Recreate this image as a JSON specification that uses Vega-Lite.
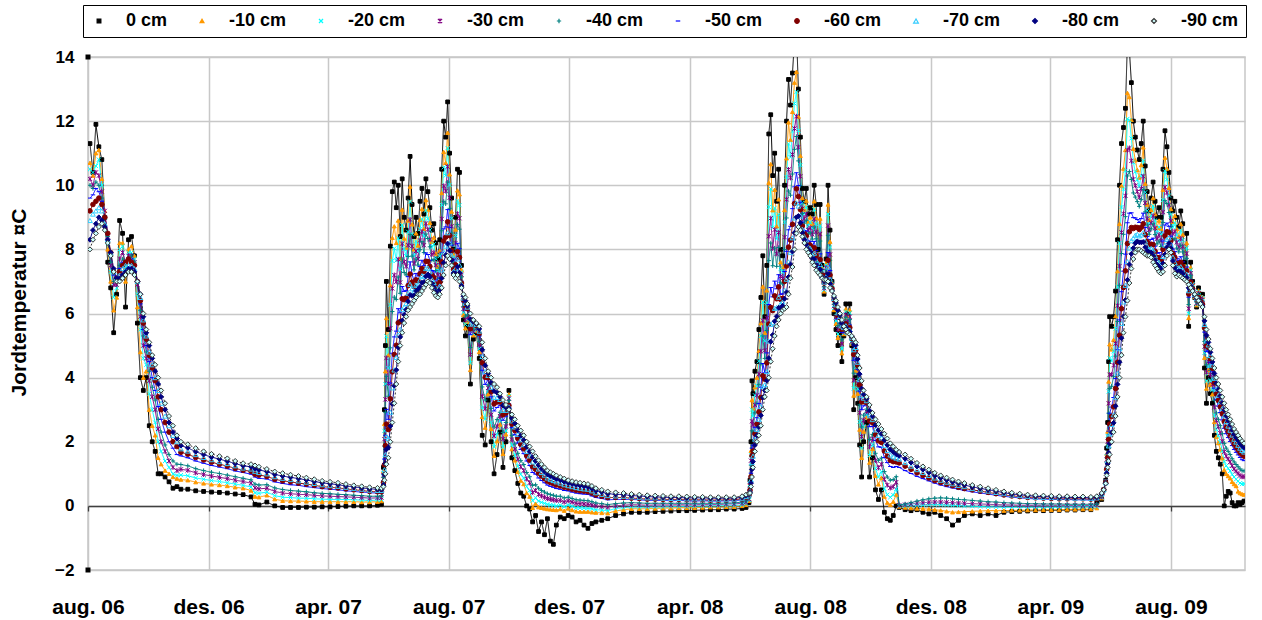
{
"$schema":"https://vega.github.io/schema/vega-lite/v6.json",
"autosize":{"type":"none"},
"padding":{"left":88,"top":57,"right":17,"bottom":50},
"width":1157,"height":513,
"background":"white",
"config":{"view":{"stroke":"#c8c8c8","strokeWidth":1.5}},
"resolve":{"axis":{"x":"independent"}},
"data":{"values":[
{"t":"2006/08/03","a":11.3,"b":10.7,"c":10.5,"d":10.2,"e":10.0,"f":9.6,"g":9.2,"h":8.9,"i":8.3,"j":8.0},
{"t":"2006/08/06","a":10.4,"b":10.3,"c":10.4,"d":10.0,"e":9.9,"f":9.7,"g":9.4,"h":9.1,"i":8.6,"j":8.3},
{"t":"2006/08/09","a":11.9,"b":11.0,"c":10.6,"d":10.4,"e":10.1,"f":9.9,"g":9.5,"h":9.2,"i":8.8,"j":8.5},
{"t":"2006/08/12","a":11.2,"b":11.1,"c":10.8,"d":10.3,"e":10.0,"f":9.8,"g":9.6,"h":9.3,"i":9.0,"j":8.7},
{"t":"2006/08/15","a":10.8,"b":10.2,"c":10.0,"d":9.8,"e":9.6,"f":9.5,"g":9.4,"h":9.2,"i":8.9,"j":8.8},
{"t":"2006/08/18","a":9.0,"b":9.2,"c":9.0,"d":9.2,"e":9.0,"f":9.0,"g":9.0,"h":8.8,"i":8.7,"j":8.6},
{"t":"2006/08/21","a":7.6,"b":8.0,"c":8.2,"d":8.4,"e":8.4,"f":8.5,"g":8.5,"h":8.3,"i":8.3,"j":8.2},
{"t":"2006/08/24","a":6.8,"b":7.0,"c":7.3,"d":7.5,"e":7.6,"f":7.8,"g":7.9,"h":7.9,"i":7.9,"j":7.8},
{"t":"2006/08/27","a":5.4,"b":6.1,"c":6.5,"d":6.9,"e":7.0,"f":7.2,"g":7.3,"h":7.3,"i":7.4,"j":7.3},
{"t":"2006/08/30","a":6.6,"b":6.5,"c":6.8,"d":6.9,"e":7.0,"f":7.0,"g":7.1,"h":7.1,"i":7.1,"j":7.0},
{"t":"2006/09/02","a":8.9,"b":8.2,"c":8.0,"d":7.7,"e":7.5,"f":7.4,"g":7.3,"h":7.2,"i":7.1,"j":7.0},
{"t":"2006/09/05","a":8.5,"b":8.2,"c":8.1,"d":7.9,"e":7.7,"f":7.6,"g":7.5,"h":7.4,"i":7.2,"j":7.1},
{"t":"2006/09/08","a":6.2,"b":7.0,"c":7.4,"d":7.6,"e":7.6,"f":7.6,"g":7.6,"h":7.5,"i":7.3,"j":7.2},
{"t":"2006/09/11","a":8.3,"b":8.0,"c":7.9,"d":7.8,"e":7.7,"f":7.7,"g":7.7,"h":7.5,"i":7.4,"j":7.3},
{"t":"2006/09/14","a":8.4,"b":8.1,"c":7.9,"d":7.8,"e":7.8,"f":7.7,"g":7.6,"h":7.5,"i":7.4,"j":7.3},
{"t":"2006/09/17","a":7.8,"b":7.8,"c":7.7,"d":7.6,"e":7.6,"f":7.5,"g":7.5,"h":7.4,"i":7.3,"j":7.2},
{"t":"2006/09/20","a":5.7,"b":6.2,"c":6.6,"d":6.9,"e":7.0,"f":7.0,"g":7.0,"h":7.0,"i":7.0,"j":7.0},
{"t":"2006/09/23","a":4.0,"b":4.8,"c":5.5,"d":5.9,"e":6.1,"f":6.3,"g":6.4,"h":6.5,"i":6.6,"j":6.6},
{"t":"2006/09/26","a":3.6,"b":4.0,"c":4.6,"d":5.0,"e":5.3,"f":5.5,"g":5.7,"h":5.8,"i":5.9,"j":6.0},
{"t":"2006/09/29","a":4.0,"b":4.2,"c":4.4,"d":4.6,"e":4.8,"f":5.0,"g":5.2,"h":5.3,"i":5.4,"j":5.5},
{"t":"2006/10/02","a":2.5,"b":3.0,"c":3.5,"d":3.9,"e":4.2,"f":4.5,"g":4.7,"h":4.8,"i":5.0,"j":5.1},
{"t":"2006/10/05","a":2.0,"b":2.5,"c":3.0,"d":3.4,"e":3.7,"f":4.0,"g":4.3,"h":4.4,"i":4.6,"j":4.7},
{"t":"2006/10/08","a":1.7,"b":2.2,"c":2.6,"d":3.0,"e":3.3,"f":3.6,"g":3.9,"h":4.0,"i":4.2,"j":4.4},
{"t":"2006/10/11","a":1.0,"b":1.5,"c":2.0,"d":2.4,"e":2.7,"f":3.1,"g":3.4,"h":3.6,"i":3.8,"j":4.0},
{"t":"2006/10/14","a":1.0,"b":1.3,"c":1.7,"d":2.0,"e":2.3,"f":2.7,"g":3.0,"h":3.2,"i":3.4,"j":3.6},
{"t":"2006/10/18","a":0.9,"b":1.1,"c":1.4,"d":1.7,"e":1.9,"f":2.3,"g":2.6,"h":2.8,"i":3.0,"j":3.2},
{"t":"2006/10/22","a":0.75,"b":1.0,"c":1.2,"d":1.4,"e":1.6,"f":2.0,"g":2.3,"h":2.5,"i":2.6,"j":2.8},
{"t":"2006/10/26","a":0.55,"b":0.9,"c":1.0,"d":1.2,"e":1.4,"f":1.8,"g":2.0,"h":2.2,"i":2.3,"j":2.5},
{"t":"2006/10/30","a":0.6,"b":0.85,"c":0.95,"d":1.1,"e":1.3,"f":1.6,"g":1.85,"h":2.0,"i":2.1,"j":2.2},
{"t":"2006/11/03","a":0.52,"b":0.82,"c":0.96,"d":1.14,"e":1.29,"f":1.56,"g":1.67,"h":1.78,"i":1.88,"j":2.0},
{"t":"2006/11/10","a":0.52,"b":0.8,"c":0.94,"d":1.11,"e":1.25,"f":1.5,"g":1.61,"h":1.71,"i":1.81,"j":1.92},
{"t":"2006/11/18","a":0.47,"b":0.74,"c":0.87,"d":1.03,"e":1.16,"f":1.4,"g":1.51,"h":1.6,"i":1.69,"j":1.8},
{"t":"2006/11/26","a":0.45,"b":0.7,"c":0.83,"d":0.98,"e":1.1,"f":1.33,"g":1.43,"h":1.51,"i":1.6,"j":1.7},
{"t":"2006/12/04","a":0.43,"b":0.67,"c":0.79,"d":0.93,"e":1.05,"f":1.26,"g":1.36,"h":1.44,"i":1.52,"j":1.62},
{"t":"2006/12/12","a":0.42,"b":0.65,"c":0.76,"d":0.89,"e":1.01,"f":1.21,"g":1.3,"h":1.38,"i":1.46,"j":1.55},
{"t":"2006/12/20","a":0.4,"b":0.62,"c":0.72,"d":0.85,"e":0.96,"f":1.16,"g":1.24,"h":1.32,"i":1.39,"j":1.48},
{"t":"2006/12/28","a":0.37,"b":0.58,"c":0.68,"d":0.8,"e":0.91,"f":1.09,"g":1.17,"h":1.25,"i":1.32,"j":1.4},
{"t":"2007/01/05","a":0.35,"b":0.55,"c":0.64,"d":0.76,"e":0.86,"f":1.04,"g":1.11,"h":1.18,"i":1.25,"j":1.33},
{"t":"2007/01/13","a":0.28,"b":0.48,"c":0.59,"d":0.71,"e":0.81,"f":0.99,"g":1.08,"h":1.15,"i":1.22,"j":1.3},
{"t":"2007/01/17","a":0.05,"b":0.29,"c":0.41,"d":0.56,"e":0.68,"f":0.9,"g":0.99,"h":1.08,"i":1.16,"j":1.26},
{"t":"2007/01/21","a":0.03,"b":0.27,"c":0.39,"d":0.53,"e":0.65,"f":0.86,"g":0.96,"h":1.04,"i":1.12,"j":1.22},
{"t":"2007/01/29","a":0.12,"b":0.33,"c":0.43,"d":0.55,"e":0.66,"f":0.84,"g":0.92,"h":1.0,"i":1.07,"j":1.15},
{"t":"2007/02/06","a":0,"b":0.21,"c":0.32,"d":0.45,"e":0.56,"f":0.75,"g":0.83,"h":0.91,"i":0.98,"j":1.07},
{"t":"2007/02/14","a":-0.05,"b":0.16,"c":0.27,"d":0.4,"e":0.51,"f":0.7,"g":0.78,"h":0.86,"i":0.93,"j":1.02},
{"t":"2007/02/22","a":-0.05,"b":0.15,"c":0.26,"d":0.38,"e":0.48,"f":0.66,"g":0.75,"h":0.82,"i":0.89,"j":0.97},
{"t":"2007/03/02","a":-0.05,"b":0.15,"c":0.24,"d":0.36,"e":0.46,"f":0.64,"g":0.71,"h":0.78,"i":0.85,"j":0.93},
{"t":"2007/03/10","a":-0.04,"b":0.14,"c":0.24,"d":0.35,"e":0.44,"f":0.6,"g":0.68,"h":0.74,"i":0.81,"j":0.88},
{"t":"2007/03/18","a":-0.04,"b":0.13,"c":0.22,"d":0.33,"e":0.41,"f":0.57,"g":0.64,"h":0.7,"i":0.76,"j":0.83},
{"t":"2007/03/26","a":-0.03,"b":0.13,"c":0.21,"d":0.31,"e":0.39,"f":0.54,"g":0.6,"h":0.66,"i":0.72,"j":0.78},
{"t":"2007/04/03","a":-0.03,"b":0.13,"c":0.2,"d":0.3,"e":0.38,"f":0.52,"g":0.58,"h":0.63,"i":0.69,"j":0.75},
{"t":"2007/04/11","a":-0.02,"b":0.13,"c":0.2,"d":0.29,"e":0.36,"f":0.5,"g":0.56,"h":0.61,"i":0.66,"j":0.72},
{"t":"2007/04/19","a":-0.01,"b":0.13,"c":0.2,"d":0.28,"e":0.35,"f":0.47,"g":0.53,"h":0.58,"i":0.62,"j":0.68},
{"t":"2007/04/27","a":0,"b":0.13,"c":0.19,"d":0.27,"e":0.33,"f":0.45,"g":0.5,"h":0.54,"i":0.59,"j":0.64},
{"t":"2007/05/05","a":0,"b":0.12,"c":0.18,"d":0.26,"e":0.32,"f":0.43,"g":0.48,"h":0.52,"i":0.56,"j":0.61},
{"t":"2007/05/13","a":0,"b":0.12,"c":0.17,"d":0.24,"e":0.3,"f":0.41,"g":0.45,"h":0.49,"i":0.53,"j":0.58},
{"t":"2007/05/21","a":0.02,"b":0.13,"c":0.18,"d":0.25,"e":0.3,"f":0.4,"g":0.44,"h":0.48,"i":0.52,"j":0.56},
{"t":"2007/05/25","a":0.05,"b":0.15,"c":0.2,"d":0.26,"e":0.31,"f":0.4,"g":0.44,"h":0.48,"i":0.51,"j":0.55},
{"t":"2007/05/27","a":1.2,"b":1.08,"c":1.02,"d":0.95,"e":0.89,"f":0.78,"g":0.73,"h":0.69,"i":0.65,"j":0.6},
{"t":"2007/05/28","a":3.0,"b":2.56,"c":2.34,"d":2.08,"e":1.86,"f":1.46,"g":1.28,"h":1.13,"i":0.98,"j":0.8},
{"t":"2007/05/29","a":5.0,"b":4.2,"c":3.8,"d":3.32,"e":2.92,"f":2.2,"g":1.88,"h":1.6,"i":1.32,"j":1.0},
{"t":"2007/05/30","a":7.0,"b":5.86,"c":5.29,"d":4.61,"e":4.04,"f":3.01,"g":2.55,"h":2.16,"i":1.76,"j":1.3},
{"t":"2007/06/01","a":5.5,"b":4.7,"c":4.3,"d":3.82,"e":3.42,"f":2.7,"g":2.38,"h":2.1,"i":1.82,"j":1.5},
{"t":"2007/06/03","a":8.1,"b":6.88,"c":6.27,"d":5.54,"e":4.93,"f":3.83,"g":3.34,"h":2.92,"i":2.49,"j":2.0},
{"t":"2007/06/05","a":9.8,"b":8.36,"c":7.64,"d":6.78,"e":6.06,"f":4.76,"g":4.18,"h":3.68,"i":3.18,"j":2.6},
{"t":"2007/06/07","a":10.1,"b":8.72,"c":8.03,"d":7.2,"e":6.51,"f":5.27,"g":4.72,"h":4.24,"i":3.75,"j":3.2},
{"t":"2007/06/09","a":9.3,"b":8.2,"c":7.65,"d":6.99,"e":6.44,"f":5.45,"g":5.01,"h":4.63,"i":4.24,"j":3.8},
{"t":"2007/06/11","a":10.0,"b":8.9,"c":8.35,"d":7.69,"e":7.14,"f":6.15,"g":5.71,"h":5.33,"i":4.94,"j":4.5},
{"t":"2007/06/13","a":8.4,"b":7.72,"c":7.38,"d":6.97,"e":6.63,"f":6.02,"g":5.75,"h":5.51,"i":5.27,"j":5.0},
{"t":"2007/06/15","a":10.2,"b":9.24,"c":8.76,"d":8.18,"e":7.7,"f":6.84,"g":6.46,"h":6.12,"i":5.78,"j":5.4},
{"t":"2007/06/17","a":9.0,"b":8.34,"c":8.01,"d":7.61,"e":7.28,"f":6.69,"g":6.43,"h":6.2,"i":5.96,"j":5.7},
{"t":"2007/06/19","a":8.6,"b":8.06,"c":7.79,"d":7.47,"e":7.2,"f":6.71,"g":6.49,"h":6.31,"i":6.12,"j":5.9},
{"t":"2007/06/21","a":9.6,"b":8.9,"c":8.55,"d":8.13,"e":7.78,"f":7.15,"g":6.87,"h":6.63,"i":6.38,"j":6.1},
{"t":"2007/06/23","a":10.9,"b":9.96,"c":9.49,"d":8.93,"e":8.46,"f":7.61,"g":7.23,"h":6.91,"i":6.58,"j":6.2},
{"t":"2007/06/25","a":9.4,"b":8.78,"c":8.47,"d":8.1,"e":7.79,"f":7.23,"g":6.98,"h":6.77,"i":6.55,"j":6.3},
{"t":"2007/06/27","a":8.4,"b":8.0,"c":7.8,"d":7.56,"e":7.36,"f":7.0,"g":6.84,"h":6.7,"i":6.56,"j":6.4},
{"t":"2007/06/29","a":9.0,"b":8.5,"c":8.25,"d":7.95,"e":7.7,"f":7.25,"g":7.05,"h":6.88,"i":6.7,"j":6.5},
{"t":"2007/07/01","a":8.5,"b":8.12,"c":7.93,"d":7.7,"e":7.51,"f":7.17,"g":7.02,"h":6.89,"i":6.75,"j":6.6},
{"t":"2007/07/03","a":9.5,"b":8.92,"c":8.63,"d":8.28,"e":7.99,"f":7.47,"g":7.24,"h":7.04,"i":6.83,"j":6.6},
{"t":"2007/07/05","a":9.9,"b":9.26,"c":8.94,"d":8.56,"e":8.24,"f":7.66,"g":7.4,"h":7.18,"i":6.96,"j":6.7},
{"t":"2007/07/07","a":9.1,"b":8.64,"c":8.41,"d":8.13,"e":7.9,"f":7.49,"g":7.31,"h":7.15,"i":6.98,"j":6.8},
{"t":"2007/07/09","a":10.2,"b":9.54,"c":9.21,"d":8.81,"e":8.48,"f":7.89,"g":7.63,"h":7.4,"i":7.16,"j":6.9},
{"t":"2007/07/11","a":9.8,"b":9.24,"c":8.96,"d":8.62,"e":8.34,"f":7.84,"g":7.62,"h":7.42,"i":7.22,"j":7.0},
{"t":"2007/07/13","a":9.3,"b":8.83,"c":8.6,"d":8.31,"e":8.08,"f":7.66,"g":7.47,"h":7.3,"i":7.14,"j":6.95},
{"t":"2007/07/15","a":8.6,"b":8.24,"c":8.06,"d":7.84,"e":7.66,"f":7.34,"g":7.2,"h":7.07,"i":6.94,"j":6.8},
{"t":"2007/07/17","a":8.8,"b":8.37,"c":8.16,"d":7.9,"e":7.68,"f":7.3,"g":7.12,"h":6.97,"i":6.82,"j":6.65},
{"t":"2007/07/19","a":8.2,"b":7.87,"c":7.71,"d":7.51,"e":7.34,"f":7.05,"g":6.91,"h":6.8,"i":6.68,"j":6.55},
{"t":"2007/07/21","a":7.7,"b":7.46,"c":7.34,"d":7.2,"e":7.08,"f":6.86,"g":6.76,"h":6.68,"i":6.6,"j":6.5},
{"t":"2007/07/23","a":8.3,"b":7.96,"c":7.79,"d":7.59,"e":7.42,"f":7.11,"g":6.97,"h":6.86,"i":6.74,"j":6.6},
{"t":"2007/07/25","a":10.5,"b":9.76,"c":9.39,"d":8.95,"e":8.58,"f":7.91,"g":7.61,"h":7.36,"i":7.1,"j":6.8},
{"t":"2007/07/27","a":12.0,"b":11.04,"c":10.56,"d":9.98,"e":9.5,"f":8.64,"g":8.26,"h":7.92,"i":7.58,"j":7.2},
{"t":"2007/07/29","a":11.5,"b":10.7,"c":10.3,"d":9.82,"e":9.42,"f":8.7,"g":8.38,"h":8.1,"i":7.82,"j":7.5},
{"t":"2007/07/31","a":12.6,"b":11.64,"c":11.16,"d":10.58,"e":10.1,"f":9.24,"g":8.86,"h":8.52,"i":8.18,"j":7.8},
{"t":"2007/08/02","a":11.0,"b":10.34,"c":10.01,"d":9.61,"e":9.28,"f":8.69,"g":8.43,"h":8.2,"i":7.96,"j":7.7},
{"t":"2007/08/04","a":9.6,"b":9.18,"c":8.97,"d":8.72,"e":8.51,"f":8.13,"g":7.96,"h":7.82,"i":7.67,"j":7.5},
{"t":"2007/08/06","a":8.0,"b":7.84,"c":7.76,"d":7.66,"e":7.58,"f":7.44,"g":7.38,"h":7.32,"i":7.26,"j":7.2},
{"t":"2007/08/08","a":9.0,"b":8.62,"c":8.43,"d":8.2,"e":8.01,"f":7.67,"g":7.52,"h":7.39,"i":7.25,"j":7.1},
{"t":"2007/08/10","a":10.5,"b":9.84,"c":9.51,"d":9.11,"e":8.78,"f":8.19,"g":7.93,"h":7.7,"i":7.46,"j":7.2},
{"t":"2007/08/12","a":10.4,"b":9.72,"c":9.38,"d":8.97,"e":8.63,"f":8.02,"g":7.75,"h":7.51,"i":7.27,"j":7.0},
{"t":"2007/08/14","a":7.5,"b":7.36,"c":7.29,"d":7.21,"e":7.14,"f":7.01,"g":6.95,"h":6.91,"i":6.86,"j":6.8},
{"t":"2007/08/16","a":5.8,"b":5.96,"c":6.04,"d":6.14,"e":6.22,"f":6.36,"g":6.42,"h":6.48,"i":6.54,"j":6.6},
{"t":"2007/08/18","a":5.3,"b":5.54,"c":5.66,"d":5.8,"e":5.92,"f":6.14,"g":6.24,"h":6.32,"i":6.4,"j":6.5},
{"t":"2007/08/20","a":5.6,"b":5.74,"c":5.81,"d":5.89,"e":5.96,"f":6.09,"g":6.15,"h":6.2,"i":6.24,"j":6.3},
{"t":"2007/08/23","a":3.8,"b":4.24,"c":4.46,"d":4.72,"e":4.94,"f":5.34,"g":5.52,"h":5.67,"i":5.82,"j":6.0},
{"t":"2007/08/26","a":5.2,"b":5.32,"c":5.38,"d":5.45,"e":5.51,"f":5.62,"g":5.67,"h":5.71,"i":5.75,"j":5.8},
{"t":"2007/08/29","a":5.4,"b":5.46,"c":5.49,"d":5.53,"e":5.56,"f":5.61,"g":5.63,"h":5.66,"i":5.68,"j":5.7},
{"t":"2007/09/01","a":4.6,"b":4.8,"c":4.9,"d":5.02,"e":5.12,"f":5.3,"g":5.38,"h":5.45,"i":5.52,"j":5.6},
{"t":"2007/09/04","a":2.2,"b":2.78,"c":3.07,"d":3.42,"e":3.71,"f":4.23,"g":4.46,"h":4.66,"i":4.87,"j":5.1},
{"t":"2007/09/07","a":1.9,"b":2.44,"c":2.71,"d":3.03,"e":3.3,"f":3.79,"g":4.01,"h":4.19,"i":4.38,"j":4.6},
{"t":"2007/09/10","a":3.3,"b":3.48,"c":3.57,"d":3.68,"e":3.77,"f":3.93,"g":4.0,"h":4.07,"i":4.13,"j":4.2},
{"t":"2007/09/13","a":2.0,"b":2.4,"c":2.6,"d":2.84,"e":3.04,"f":3.4,"g":3.56,"h":3.7,"i":3.84,"j":4.0},
{"t":"2007/09/16","a":1.0,"b":1.56,"c":1.84,"d":2.18,"e":2.46,"f":2.96,"g":3.18,"h":3.38,"i":3.58,"j":3.8},
{"t":"2007/09/19","a":1.6,"b":2.02,"c":2.23,"d":2.48,"e":2.69,"f":3.07,"g":3.24,"h":3.38,"i":3.53,"j":3.7},
{"t":"2007/09/22","a":2.3,"b":2.54,"c":2.66,"d":2.8,"e":2.92,"f":3.14,"g":3.24,"h":3.32,"i":3.4,"j":3.5},
{"t":"2007/09/25","a":1.2,"b":1.62,"c":1.83,"d":2.08,"e":2.29,"f":2.67,"g":2.84,"h":2.98,"i":3.13,"j":3.3},
{"t":"2007/09/28","a":2.0,"b":2.23,"c":2.34,"d":2.48,"e":2.6,"f":2.8,"g":2.9,"h":2.98,"i":3.06,"j":3.15},
{"t":"2007/10/01","a":3.6,"b":3.48,"c":3.42,"d":3.35,"e":3.29,"f":3.18,"g":3.13,"h":3.09,"i":3.05,"j":3.0},
{"t":"2007/10/04","a":1.5,"b":1.77,"c":1.9,"d":2.07,"e":2.2,"f":2.44,"g":2.55,"h":2.65,"i":2.74,"j":2.85},
{"t":"2007/10/07","a":1.1,"b":1.42,"c":1.58,"d":1.77,"e":1.93,"f":2.22,"g":2.35,"h":2.46,"i":2.57,"j":2.7},
{"t":"2007/10/10","a":0.7,"b":1.06,"c":1.24,"d":1.46,"e":1.64,"f":1.96,"g":2.1,"h":2.23,"i":2.36,"j":2.5},
{"t":"2007/10/13","a":0.4,"b":0.79,"c":0.98,"d":1.22,"e":1.41,"f":1.76,"g":1.92,"h":2.06,"i":2.19,"j":2.35},
{"t":"2007/10/16","a":0.3,"b":0.68,"c":0.87,"d":1.1,"e":1.29,"f":1.63,"g":1.78,"h":1.91,"i":2.05,"j":2.2},
{"t":"2007/10/19","a":0.0,"b":0.4,"c":0.6,"d":0.84,"e":1.04,"f":1.4,"g":1.56,"h":1.7,"i":1.84,"j":2.0},
{"t":"2007/10/22","a":-0.1,"b":0.29,"c":0.48,"d":0.72,"e":0.91,"f":1.26,"g":1.42,"h":1.56,"i":1.69,"j":1.85},
{"t":"2007/10/25","a":-0.5,"b":-0.06,"c":0.16,"d":0.42,"e":0.64,"f":1.04,"g":1.22,"h":1.37,"i":1.52,"j":1.7},
{"t":"2007/10/28","a":-0.3,"b":0.07,"c":0.25,"d":0.48,"e":0.66,"f":0.99,"g":1.14,"h":1.27,"i":1.4,"j":1.55},
{"t":"2007/10/31","a":-0.8,"b":-0.04,"c":0.15,"d":0.36,"e":0.55,"f":0.87,"g":1.02,"h":1.15,"i":1.27,"j":1.42},
{"t":"2007/11/03","a":-0.5,"b":-0.06,"c":0.11,"d":0.31,"e":0.48,"f":0.79,"g":0.93,"h":1.04,"i":1.16,"j":1.3},
{"t":"2007/11/06","a":-0.9,"b":-0.08,"c":0.08,"d":0.27,"e":0.43,"f":0.72,"g":0.85,"h":0.96,"i":1.07,"j":1.2},
{"t":"2007/11/09","a":-0.4,"b":-0.1,"c":0.05,"d":0.23,"e":0.38,"f":0.65,"g":0.77,"h":0.87,"i":0.98,"j":1.1},
{"t":"2007/11/12","a":-1.1,"b":-0.11,"c":0.03,"d":0.21,"e":0.35,"f":0.61,"g":0.73,"h":0.83,"i":0.93,"j":1.05},
{"t":"2007/11/15","a":-1.2,"b":-0.12,"c":0.02,"d":0.19,"e":0.33,"f":0.58,"g":0.69,"h":0.79,"i":0.89,"j":1.0},
{"t":"2007/11/18","a":-0.6,"b":-0.13,"c":0.0,"d":0.17,"e":0.3,"f":0.54,"g":0.65,"h":0.75,"i":0.84,"j":0.95},
{"t":"2007/11/22","a":-0.35,"b":-0.1,"c":0.02,"d":0.17,"e":0.3,"f":0.52,"g":0.62,"h":0.71,"i":0.8,"j":0.9},
{"t":"2007/11/26","a":-0.4,"b":-0.15,"c":-0.03,"d":0.12,"e":0.25,"f":0.48,"g":0.58,"h":0.66,"i":0.75,"j":0.85},
{"t":"2007/11/30","a":-0.3,"b":-0.08,"c":0.03,"d":0.16,"e":0.27,"f":0.47,"g":0.56,"h":0.63,"i":0.71,"j":0.8},
{"t":"2007/12/04","a":-0.35,"b":-0.13,"c":-0.01,"d":0.12,"e":0.23,"f":0.43,"g":0.52,"h":0.6,"i":0.68,"j":0.77},
{"t":"2007/12/08","a":-0.5,"b":-0.17,"c":-0.06,"d":0.08,"e":0.19,"f":0.4,"g":0.49,"h":0.57,"i":0.65,"j":0.74},
{"t":"2007/12/12","a":-0.45,"b":-0.18,"c":-0.06,"d":0.07,"e":0.18,"f":0.38,"g":0.47,"h":0.55,"i":0.63,"j":0.72},
{"t":"2007/12/16","a":-0.6,"b":-0.18,"c":-0.07,"d":0.06,"e":0.17,"f":0.37,"g":0.46,"h":0.53,"i":0.61,"j":0.7},
{"t":"2007/12/20","a":-0.7,"b":-0.18,"c":-0.08,"d":0.05,"e":0.16,"f":0.36,"g":0.44,"h":0.52,"i":0.59,"j":0.68},
{"t":"2007/12/24","a":-0.55,"b":-0.2,"c":-0.09,"d":0.03,"e":0.13,"f":0.31,"g":0.4,"h":0.47,"i":0.54,"j":0.62},
{"t":"2007/12/28","a":-0.5,"b":-0.21,"c":-0.12,"d":0.0,"e":0.09,"f":0.26,"g":0.34,"h":0.41,"i":0.47,"j":0.55},
{"t":"2008/01/03","a":-0.45,"b":-0.22,"c":-0.13,"d":-0.02,"e":0.07,"f":0.23,"g":0.3,"h":0.36,"i":0.43,"j":0.5},
{"t":"2008/01/09","a":-0.4,"b":-0.23,"c":-0.15,"d":-0.04,"e":0.04,"f":0.19,"g":0.26,"h":0.32,"i":0.38,"j":0.45},
{"t":"2008/01/17","a":-0.3,"b":-0.16,"c":-0.08,"d":0.0,"e":0.07,"f":0.2,"g":0.26,"h":0.31,"i":0.36,"j":0.42},
{"t":"2008/01/25","a":-0.25,"b":-0.12,"c":-0.06,"d":0.02,"e":0.09,"f":0.2,"g":0.26,"h":0.3,"i":0.35,"j":0.4},
{"t":"2008/02/02","a":-0.2,"b":-0.09,"c":-0.03,"d":0.04,"e":0.1,"f":0.2,"g":0.24,"h":0.28,"i":0.32,"j":0.37},
{"t":"2008/02/10","a":-0.2,"b":-0.09,"c":-0.04,"d":0.03,"e":0.09,"f":0.19,"g":0.23,"h":0.27,"i":0.31,"j":0.35},
{"t":"2008/02/18","a":-0.2,"b":-0.09,"c":-0.04,"d":0.02,"e":0.08,"f":0.17,"g":0.21,"h":0.25,"i":0.29,"j":0.33},
{"t":"2008/02/26","a":-0.18,"b":-0.08,"c":-0.03,"d":0.03,"e":0.08,"f":0.17,"g":0.21,"h":0.25,"i":0.28,"j":0.32},
{"t":"2008/03/05","a":-0.17,"b":-0.07,"c":-0.03,"d":0.03,"e":0.08,"f":0.17,"g":0.2,"h":0.24,"i":0.27,"j":0.31},
{"t":"2008/03/13","a":-0.16,"b":-0.07,"c":-0.02,"d":0.03,"e":0.08,"f":0.16,"g":0.2,"h":0.23,"i":0.26,"j":0.3},
{"t":"2008/03/21","a":-0.15,"b":-0.06,"c":-0.02,"d":0.04,"e":0.08,"f":0.17,"g":0.2,"h":0.23,"i":0.26,"j":0.3},
{"t":"2008/03/29","a":-0.15,"b":-0.06,"c":-0.02,"d":0.03,"e":0.08,"f":0.16,"g":0.19,"h":0.22,"i":0.25,"j":0.29},
{"t":"2008/04/06","a":-0.14,"b":-0.06,"c":-0.01,"d":0.04,"e":0.08,"f":0.15,"g":0.19,"h":0.22,"i":0.25,"j":0.28},
{"t":"2008/04/14","a":-0.13,"b":-0.05,"c":-0.01,"d":0.04,"e":0.08,"f":0.16,"g":0.19,"h":0.22,"i":0.25,"j":0.28},
{"t":"2008/04/22","a":-0.12,"b":-0.04,"c":0.0,"d":0.04,"e":0.08,"f":0.15,"g":0.18,"h":0.21,"i":0.24,"j":0.27},
{"t":"2008/04/30","a":-0.12,"b":-0.04,"c":0.0,"d":0.04,"e":0.08,"f":0.15,"g":0.18,"h":0.21,"i":0.24,"j":0.27},
{"t":"2008/05/08","a":-0.1,"b":-0.03,"c":0.01,"d":0.06,"e":0.09,"f":0.16,"g":0.19,"h":0.21,"i":0.24,"j":0.27},
{"t":"2008/05/16","a":-0.1,"b":-0.03,"c":0.01,"d":0.06,"e":0.09,"f":0.16,"g":0.19,"h":0.21,"i":0.24,"j":0.27},
{"t":"2008/05/24","a":-0.08,"b":0.0,"c":0.03,"d":0.08,"e":0.12,"f":0.19,"g":0.22,"h":0.24,"i":0.27,"j":0.3},
{"t":"2008/05/28","a":-0.05,"b":0.03,"c":0.07,"d":0.12,"e":0.16,"f":0.23,"g":0.26,"h":0.29,"i":0.32,"j":0.35},
{"t":"2008/05/31","a":0.1,"b":0.16,"c":0.18,"d":0.22,"e":0.25,"f":0.3,"g":0.32,"h":0.34,"i":0.36,"j":0.38},
{"t":"2008/06/01","a":0.8,"b":0.72,"c":0.68,"d":0.63,"e":0.59,"f":0.52,"g":0.49,"h":0.46,"i":0.43,"j":0.4},
{"t":"2008/06/02","a":2.0,"b":1.72,"c":1.58,"d":1.41,"e":1.27,"f":1.02,"g":0.91,"h":0.81,"i":0.71,"j":0.6},
{"t":"2008/06/03","a":3.9,"b":3.3,"c":3.0,"d":2.64,"e":2.34,"f":1.8,"g":1.56,"h":1.35,"i":1.14,"j":0.9},
{"t":"2008/06/04","a":3.5,"b":3.04,"c":2.81,"d":2.53,"e":2.3,"f":1.89,"g":1.71,"h":1.55,"i":1.38,"j":1.2},
{"t":"2008/06/06","a":4.2,"b":3.7,"c":3.45,"d":3.15,"e":2.9,"f":2.45,"g":2.25,"h":2.08,"i":1.9,"j":1.7},
{"t":"2008/06/08","a":4.5,"b":4.0,"c":3.75,"d":3.45,"e":3.2,"f":2.75,"g":2.55,"h":2.38,"i":2.2,"j":2.0},
{"t":"2008/06/10","a":5.5,"b":4.84,"c":4.51,"d":4.11,"e":3.78,"f":3.19,"g":2.93,"h":2.7,"i":2.46,"j":2.2},
{"t":"2008/06/12","a":6.5,"b":5.7,"c":5.3,"d":4.82,"e":4.42,"f":3.7,"g":3.38,"h":3.1,"i":2.82,"j":2.5},
{"t":"2008/06/14","a":7.8,"b":6.84,"c":6.36,"d":5.78,"e":5.3,"f":4.44,"g":4.06,"h":3.72,"i":3.38,"j":3.0},
{"t":"2008/06/16","a":5.9,"b":5.4,"c":5.15,"d":4.85,"e":4.6,"f":4.15,"g":3.95,"h":3.78,"i":3.6,"j":3.4},
{"t":"2008/06/18","a":7.5,"b":6.72,"c":6.33,"d":5.86,"e":5.47,"f":4.77,"g":4.46,"h":4.19,"i":3.91,"j":3.6},
{"t":"2008/06/20","a":11.6,"b":10.08,"c":9.32,"d":8.41,"e":7.65,"f":6.28,"g":5.67,"h":5.14,"i":4.61,"j":4.0},
{"t":"2008/06/22","a":12.2,"b":10.66,"c":9.89,"d":8.97,"e":8.2,"f":6.81,"g":6.19,"h":5.66,"i":5.12,"j":4.5},
{"t":"2008/06/24","a":10.3,"b":9.22,"c":8.68,"d":8.03,"e":7.49,"f":6.52,"g":6.09,"h":5.71,"i":5.33,"j":4.9},
{"t":"2008/06/26","a":11.0,"b":9.86,"c":9.29,"d":8.61,"e":8.04,"f":7.01,"g":6.55,"h":6.16,"i":5.76,"j":5.3},
{"t":"2008/06/28","a":9.5,"b":8.72,"c":8.33,"d":7.86,"e":7.47,"f":6.77,"g":6.46,"h":6.19,"i":5.91,"j":5.6},
{"t":"2008/06/30","a":10.5,"b":9.56,"c":9.09,"d":8.53,"e":8.06,"f":7.21,"g":6.83,"h":6.51,"i":6.18,"j":5.8},
{"t":"2008/07/02","a":8.0,"b":7.6,"c":7.4,"d":7.16,"e":6.96,"f":6.6,"g":6.44,"h":6.3,"i":6.16,"j":6.0},
{"t":"2008/07/04","a":7.8,"b":7.46,"c":7.29,"d":7.09,"e":6.92,"f":6.61,"g":6.47,"h":6.36,"i":6.24,"j":6.1},
{"t":"2008/07/06","a":10.0,"b":9.23,"c":8.85,"d":8.38,"e":8.0,"f":7.31,"g":7.0,"h":6.73,"i":6.46,"j":6.15},
{"t":"2008/07/08","a":12.0,"b":10.84,"c":10.26,"d":9.56,"e":8.98,"f":7.94,"g":7.48,"h":7.07,"i":6.66,"j":6.2},
{"t":"2008/07/10","a":13.3,"b":11.96,"c":11.29,"d":10.49,"e":9.82,"f":8.61,"g":8.07,"h":7.61,"i":7.14,"j":6.6},
{"t":"2008/07/12","a":12.5,"b":11.42,"c":10.88,"d":10.23,"e":9.69,"f":8.72,"g":8.29,"h":7.91,"i":7.53,"j":7.1},
{"t":"2008/07/14","a":13.5,"b":12.29,"c":11.69,"d":10.96,"e":10.35,"f":9.27,"g":8.78,"h":8.36,"i":7.93,"j":7.45},
{"t":"2008/07/16","a":14.5,"b":13.2,"c":12.55,"d":11.77,"e":11.12,"f":9.95,"g":9.43,"h":8.98,"i":8.52,"j":8.0},
{"t":"2008/07/18","a":14.8,"b":13.54,"c":12.91,"d":12.15,"e":11.52,"f":10.39,"g":9.89,"h":9.45,"i":9.0,"j":8.5},
{"t":"2008/07/20","a":13.0,"b":12.14,"c":11.71,"d":11.19,"e":10.76,"f":9.99,"g":9.65,"h":9.35,"i":9.04,"j":8.7},
{"t":"2008/07/22","a":11.5,"b":10.92,"c":10.63,"d":10.28,"e":9.99,"f":9.47,"g":9.24,"h":9.04,"i":8.83,"j":8.6},
{"t":"2008/07/24","a":9.9,"b":9.6,"c":9.45,"d":9.27,"e":9.12,"f":8.85,"g":8.73,"h":8.63,"i":8.52,"j":8.4},
{"t":"2008/07/26","a":9.5,"b":9.24,"c":9.11,"d":8.95,"e":8.82,"f":8.59,"g":8.49,"h":8.4,"i":8.3,"j":8.2},
{"t":"2008/07/28","a":9.9,"b":9.52,"c":9.33,"d":9.1,"e":8.91,"f":8.57,"g":8.42,"h":8.29,"i":8.15,"j":8.0},
{"t":"2008/07/30","a":9.1,"b":8.86,"c":8.74,"d":8.6,"e":8.48,"f":8.26,"g":8.16,"h":8.08,"i":8.0,"j":7.9},
{"t":"2008/08/01","a":9.3,"b":9.0,"c":8.85,"d":8.67,"e":8.52,"f":8.25,"g":8.13,"h":8.03,"i":7.92,"j":7.8},
{"t":"2008/08/03","a":9.1,"b":8.8,"c":8.65,"d":8.47,"e":8.32,"f":8.05,"g":7.93,"h":7.83,"i":7.72,"j":7.6},
{"t":"2008/08/05","a":10.0,"b":9.5,"c":9.25,"d":8.95,"e":8.7,"f":8.25,"g":8.05,"h":7.88,"i":7.7,"j":7.5},
{"t":"2008/08/07","a":9.4,"b":8.99,"c":8.79,"d":8.54,"e":8.33,"f":7.97,"g":7.8,"h":7.66,"i":7.51,"j":7.35},
{"t":"2008/08/09","a":8.0,"b":7.85,"c":7.78,"d":7.69,"e":7.62,"f":7.49,"g":7.43,"h":7.38,"i":7.33,"j":7.27},
{"t":"2008/08/11","a":9.4,"b":8.96,"c":8.74,"d":8.48,"e":8.26,"f":7.86,"g":7.68,"h":7.53,"i":7.38,"j":7.2},
{"t":"2008/08/13","a":7.5,"b":7.42,"c":7.38,"d":7.33,"e":7.29,"f":7.22,"g":7.19,"h":7.16,"i":7.13,"j":7.1},
{"t":"2008/08/15","a":6.6,"b":6.69,"c":6.74,"d":6.79,"e":6.83,"f":6.92,"g":6.95,"h":6.98,"i":7.01,"j":7.05},
{"t":"2008/08/17","a":7.7,"b":7.57,"c":7.51,"d":7.43,"e":7.36,"f":7.25,"g":7.19,"h":7.15,"i":7.1,"j":7.05},
{"t":"2008/08/19","a":10.0,"b":9.4,"c":9.1,"d":8.74,"e":8.44,"f":7.9,"g":7.66,"h":7.45,"i":7.24,"j":7.0},
{"t":"2008/08/21","a":8.6,"b":8.24,"c":8.06,"d":7.84,"e":7.66,"f":7.34,"g":7.2,"h":7.07,"i":6.94,"j":6.8},
{"t":"2008/08/23","a":7.0,"b":6.94,"c":6.91,"d":6.87,"e":6.84,"f":6.79,"g":6.77,"h":6.75,"i":6.72,"j":6.7},
{"t":"2008/08/25","a":6.0,"b":6.11,"c":6.17,"d":6.23,"e":6.29,"f":6.39,"g":6.43,"h":6.47,"i":6.51,"j":6.55},
{"t":"2008/08/27","a":5.5,"b":5.68,"c":5.77,"d":5.88,"e":5.97,"f":6.13,"g":6.2,"h":6.27,"i":6.33,"j":6.4},
{"t":"2008/08/29","a":5.0,"b":5.24,"c":5.36,"d":5.5,"e":5.62,"f":5.84,"g":5.94,"h":6.02,"i":6.1,"j":6.2},
{"t":"2008/08/31","a":5.4,"b":5.52,"c":5.58,"d":5.65,"e":5.71,"f":5.82,"g":5.87,"h":5.91,"i":5.95,"j":6.0},
{"t":"2008/09/02","a":4.5,"b":4.76,"c":4.89,"d":5.05,"e":5.18,"f":5.41,"g":5.51,"h":5.61,"i":5.7,"j":5.8},
{"t":"2008/09/04","a":5.3,"b":5.36,"c":5.39,"d":5.43,"e":5.46,"f":5.51,"g":5.53,"h":5.56,"i":5.58,"j":5.6},
{"t":"2008/09/06","a":6.3,"b":6.14,"c":6.06,"d":5.96,"e":5.88,"f":5.74,"g":5.68,"h":5.62,"i":5.56,"j":5.5},
{"t":"2008/09/08","a":6.0,"b":5.88,"c":5.82,"d":5.75,"e":5.69,"f":5.58,"g":5.53,"h":5.49,"i":5.45,"j":5.4},
{"t":"2008/09/10","a":6.3,"b":6.11,"c":6.02,"d":5.9,"e":5.81,"f":5.64,"g":5.56,"h":5.49,"i":5.43,"j":5.35},
{"t":"2008/09/12","a":5.0,"b":5.06,"c":5.09,"d":5.13,"e":5.16,"f":5.21,"g":5.23,"h":5.26,"i":5.28,"j":5.3},
{"t":"2008/09/14","a":3.0,"b":3.44,"c":3.66,"d":3.92,"e":4.14,"f":4.54,"g":4.72,"h":4.87,"i":5.02,"j":5.2},
{"t":"2008/09/16","a":4.0,"b":4.22,"c":4.33,"d":4.46,"e":4.57,"f":4.77,"g":4.86,"h":4.94,"i":5.01,"j":5.1},
{"t":"2008/09/18","a":3.2,"b":3.5,"c":3.65,"d":3.83,"e":3.98,"f":4.25,"g":4.37,"h":4.48,"i":4.58,"j":4.7},
{"t":"2008/09/20","a":1.9,"b":2.38,"c":2.62,"d":2.91,"e":3.15,"f":3.58,"g":3.77,"h":3.94,"i":4.11,"j":4.3},
{"t":"2008/09/22","a":0.9,"b":1.5,"c":1.8,"d":2.16,"e":2.46,"f":3.0,"g":3.24,"h":3.45,"i":3.66,"j":3.9},
{"t":"2008/09/24","a":2.0,"b":2.32,"c":2.48,"d":2.67,"e":2.83,"f":3.12,"g":3.25,"h":3.36,"i":3.47,"j":3.6},
{"t":"2008/09/27","a":2.6,"b":2.76,"c":2.84,"d":2.94,"e":3.02,"f":3.16,"g":3.22,"h":3.28,"i":3.34,"j":3.4},
{"t":"2008/09/30","a":0.9,"b":1.35,"c":1.57,"d":1.84,"e":2.07,"f":2.47,"g":2.65,"h":2.81,"i":2.97,"j":3.15},
{"t":"2008/10/03","a":1.5,"b":1.78,"c":1.92,"d":2.09,"e":2.23,"f":2.48,"g":2.59,"h":2.69,"i":2.79,"j":2.9},
{"t":"2008/10/06","a":0.5,"b":0.94,"c":1.16,"d":1.42,"e":1.64,"f":2.04,"g":2.22,"h":2.37,"i":2.52,"j":2.7},
{"t":"2008/10/09","a":0.2,"b":0.67,"c":0.9,"d":1.19,"e":1.42,"f":1.84,"g":2.03,"h":2.2,"i":2.36,"j":2.55},
{"t":"2008/10/12","a":0.5,"b":0.88,"c":1.07,"d":1.3,"e":1.49,"f":1.83,"g":1.98,"h":2.12,"i":2.25,"j":2.4},
{"t":"2008/10/15","a":-0.2,"b":0.29,"c":0.53,"d":0.83,"e":1.07,"f":1.51,"g":1.71,"h":1.88,"i":2.05,"j":2.25},
{"t":"2008/10/18","a":-0.4,"b":0.1,"c":0.35,"d":0.65,"e":0.9,"f":1.35,"g":1.55,"h":1.73,"i":1.9,"j":2.1},
{"t":"2008/10/21","a":-0.45,"b":0.03,"c":0.27,"d":0.56,"e":0.8,"f":1.23,"g":1.42,"h":1.59,"i":1.76,"j":1.95},
{"t":"2008/10/24","a":-0.3,"b":0.13,"c":0.34,"d":0.6,"e":0.82,"f":1.2,"g":1.38,"h":1.53,"i":1.68,"j":1.85},
{"t":"2008/10/27","a":0.0,"b":0.35,"c":0.53,"d":0.74,"e":0.91,"f":1.23,"g":1.37,"h":1.49,"i":1.61,"j":1.75},
{"t":"2008/10/30","a":-0.05,"b":-0.02,"c":0.0,"d":0.02,"e":0.03,"f":1.2,"g":1.34,"h":1.46,"i":1.56,"j":1.68},
{"t":"2008/11/05","a":-0.12,"b":-0.05,"c":0.0,"d":0.04,"e":0.06,"f":1.1,"g":1.24,"h":1.35,"i":1.47,"j":1.6},
{"t":"2008/11/11","a":-0.15,"b":-0.07,"c":0.01,"d":0.06,"e":0.1,"f":1.01,"g":1.14,"h":1.24,"i":1.35,"j":1.47},
{"t":"2008/11/17","a":-0.12,"b":-0.08,"c":0.02,"d":0.08,"e":0.15,"f":0.92,"g":1.03,"h":1.13,"i":1.23,"j":1.34},
{"t":"2008/11/23","a":-0.2,"b":-0.09,"c":0.03,"d":0.1,"e":0.19,"f":0.85,"g":0.95,"h":1.04,"i":1.13,"j":1.23},
{"t":"2008/11/29","a":-0.25,"b":-0.1,"c":0.04,"d":0.11,"e":0.22,"f":0.78,"g":0.87,"h":0.95,"i":1.04,"j":1.13},
{"t":"2008/12/05","a":-0.2,"b":-0.12,"c":0.04,"d":0.12,"e":0.24,"f":0.71,"g":0.79,"h":0.87,"i":0.94,"j":1.03},
{"t":"2008/12/11","a":-0.3,"b":-0.14,"c":0.04,"d":0.12,"e":0.25,"f":0.65,"g":0.73,"h":0.8,"i":0.87,"j":0.95},
{"t":"2008/12/17","a":-0.4,"b":-0.17,"c":0.03,"d":0.11,"e":0.24,"f":0.6,"g":0.68,"h":0.74,"i":0.81,"j":0.88},
{"t":"2008/12/23","a":-0.6,"b":-0.2,"c":0.02,"d":0.1,"e":0.22,"f":0.56,"g":0.63,"h":0.69,"i":0.75,"j":0.82},
{"t":"2008/12/29","a":-0.45,"b":-0.19,"c":0.01,"d":0.09,"e":0.2,"f":0.52,"g":0.58,"h":0.64,"i":0.7,"j":0.76},
{"t":"2009/01/04","a":-0.3,"b":-0.18,"c":0.0,"d":0.08,"e":0.19,"f":0.48,"g":0.54,"h":0.6,"i":0.65,"j":0.71},
{"t":"2009/01/12","a":-0.25,"b":-0.17,"c":-0.01,"d":0.07,"e":0.17,"f":0.44,"g":0.5,"h":0.54,"i":0.59,"j":0.65},
{"t":"2009/01/20","a":-0.3,"b":-0.16,"c":-0.02,"d":0.06,"e":0.15,"f":0.4,"g":0.46,"h":0.5,"i":0.55,"j":0.6},
{"t":"2009/01/28","a":-0.25,"b":-0.15,"c":-0.03,"d":0.05,"e":0.13,"f":0.37,"g":0.42,"h":0.46,"i":0.5,"j":0.55},
{"t":"2009/02/05","a":-0.3,"b":-0.15,"c":-0.03,"d":0.04,"e":0.12,"f":0.33,"g":0.38,"h":0.42,"i":0.46,"j":0.5},
{"t":"2009/02/13","a":-0.2,"b":-0.15,"c":-0.04,"d":0.03,"e":0.1,"f":0.3,"g":0.34,"h":0.38,"i":0.41,"j":0.45},
{"t":"2009/02/21","a":-0.18,"b":-0.14,"c":-0.04,"d":0.03,"e":0.09,"f":0.27,"g":0.31,"h":0.34,"i":0.37,"j":0.41},
{"t":"2009/03/01","a":-0.17,"b":-0.14,"c":-0.04,"d":0.02,"e":0.08,"f":0.25,"g":0.29,"h":0.32,"i":0.35,"j":0.38},
{"t":"2009/03/09","a":-0.16,"b":-0.13,"c":-0.04,"d":0.02,"e":0.07,"f":0.23,"g":0.26,"h":0.29,"i":0.32,"j":0.35},
{"t":"2009/03/17","a":-0.15,"b":-0.13,"c":-0.04,"d":0.02,"e":0.07,"f":0.22,"g":0.25,"h":0.27,"i":0.3,"j":0.33},
{"t":"2009/03/25","a":-0.15,"b":-0.12,"c":-0.04,"d":0.02,"e":0.06,"f":0.21,"g":0.24,"h":0.26,"i":0.29,"j":0.32},
{"t":"2009/04/02","a":-0.14,"b":-0.12,"c":-0.04,"d":0.02,"e":0.06,"f":0.2,"g":0.23,"h":0.26,"i":0.28,"j":0.31},
{"t":"2009/04/10","a":-0.14,"b":-0.12,"c":-0.04,"d":0.02,"e":0.06,"f":0.2,"g":0.22,"h":0.25,"i":0.27,"j":0.3},
{"t":"2009/04/18","a":-0.13,"b":-0.11,"c":-0.03,"d":0.02,"e":0.05,"f":0.2,"g":0.22,"h":0.25,"i":0.27,"j":0.3},
{"t":"2009/04/26","a":-0.13,"b":-0.11,"c":-0.03,"d":0.02,"e":0.05,"f":0.19,"g":0.22,"h":0.24,"i":0.26,"j":0.29},
{"t":"2009/05/04","a":-0.12,"b":-0.1,"c":-0.03,"d":0.02,"e":0.05,"f":0.19,"g":0.22,"h":0.24,"i":0.26,"j":0.29},
{"t":"2009/05/12","a":-0.12,"b":-0.1,"c":-0.03,"d":0.02,"e":0.05,"f":0.18,"g":0.21,"h":0.23,"i":0.25,"j":0.28},
{"t":"2009/05/18","a":0.1,"b":-0.07,"c":-0.02,"d":0.03,"e":0.06,"f":0.19,"g":0.22,"h":0.25,"i":0.27,"j":0.3},
{"t":"2009/05/23","a":0.2,"b":0.24,"c":0.26,"d":0.28,"e":0.3,"f":0.34,"g":0.36,"h":0.37,"i":0.38,"j":0.4},
{"t":"2009/05/25","a":0.5,"b":0.5,"c":0.5,"d":0.5,"e":0.5,"f":0.5,"g":0.5,"h":0.5,"i":0.5,"j":0.5},
{"t":"2009/05/27","a":0.8,"b":0.78,"c":0.77,"d":0.76,"e":0.75,"f":0.73,"g":0.72,"h":0.72,"i":0.71,"j":0.7},
{"t":"2009/05/28","a":1.8,"b":1.63,"c":1.55,"d":1.44,"e":1.36,"f":1.21,"g":1.14,"h":1.08,"i":1.02,"j":0.95},
{"t":"2009/05/29","a":2.6,"b":2.32,"c":2.18,"d":2.01,"e":1.87,"f":1.62,"g":1.51,"h":1.41,"i":1.31,"j":1.2},
{"t":"2009/05/30","a":4.5,"b":3.88,"c":3.57,"d":3.2,"e":2.89,"f":2.33,"g":2.08,"h":1.87,"i":1.65,"j":1.4},
{"t":"2009/05/31","a":5.9,"b":5.04,"c":4.61,"d":4.09,"e":3.66,"f":2.89,"g":2.55,"h":2.25,"i":1.94,"j":1.6},
{"t":"2009/06/02","a":5.6,"b":4.88,"c":4.52,"d":4.09,"e":3.73,"f":3.08,"g":2.79,"h":2.54,"i":2.29,"j":2.0},
{"t":"2009/06/04","a":5.9,"b":5.18,"c":4.82,"d":4.39,"e":4.03,"f":3.38,"g":3.09,"h":2.84,"i":2.59,"j":2.3},
{"t":"2009/06/06","a":6.7,"b":5.92,"c":5.53,"d":5.06,"e":4.67,"f":3.97,"g":3.66,"h":3.39,"i":3.11,"j":2.8},
{"t":"2009/06/08","a":8.3,"b":7.32,"c":6.83,"d":6.24,"e":5.75,"f":4.87,"g":4.48,"h":4.14,"i":3.79,"j":3.4},
{"t":"2009/06/10","a":10.0,"b":8.8,"c":8.2,"d":7.48,"e":6.88,"f":5.8,"g":5.32,"h":4.9,"i":4.48,"j":4.0},
{"t":"2009/06/12","a":11.3,"b":9.98,"c":9.32,"d":8.53,"e":7.87,"f":6.68,"g":6.15,"h":5.69,"i":5.23,"j":4.7},
{"t":"2009/06/14","a":11.8,"b":10.52,"c":9.88,"d":9.11,"e":8.47,"f":7.32,"g":6.81,"h":6.36,"i":5.91,"j":5.4},
{"t":"2009/06/16","a":12.4,"b":11.1,"c":10.45,"d":9.67,"e":9.02,"f":7.85,"g":7.33,"h":6.88,"i":6.42,"j":5.9},
{"t":"2009/06/18","a":14.5,"b":12.88,"c":12.07,"d":11.1,"e":10.29,"f":8.83,"g":8.18,"h":7.62,"i":7.05,"j":6.4},
{"t":"2009/06/20","a":14.2,"b":12.75,"c":12.03,"d":11.16,"e":10.43,"f":9.13,"g":8.55,"h":8.04,"i":7.53,"j":6.95},
{"t":"2009/06/22","a":13.2,"b":12.04,"c":11.46,"d":10.76,"e":10.18,"f":9.14,"g":8.68,"h":8.27,"i":7.86,"j":7.4},
{"t":"2009/06/24","a":12.0,"b":11.14,"c":10.71,"d":10.19,"e":9.76,"f":8.99,"g":8.65,"h":8.35,"i":8.04,"j":7.7},
{"t":"2009/06/26","a":11.5,"b":10.78,"c":10.42,"d":9.99,"e":9.63,"f":8.98,"g":8.69,"h":8.44,"i":8.19,"j":7.9},
{"t":"2009/06/28","a":11.1,"b":10.48,"c":10.17,"d":9.8,"e":9.49,"f":8.93,"g":8.68,"h":8.47,"i":8.25,"j":8.0},
{"t":"2009/06/30","a":10.8,"b":10.24,"c":9.96,"d":9.62,"e":9.34,"f":8.84,"g":8.62,"h":8.42,"i":8.22,"j":8.0},
{"t":"2009/07/02","a":11.3,"b":10.63,"c":10.3,"d":9.89,"e":9.56,"f":8.96,"g":8.69,"h":8.45,"i":8.22,"j":7.95},
{"t":"2009/07/04","a":12.0,"b":11.18,"c":10.77,"d":10.28,"e":9.87,"f":9.13,"g":8.8,"h":8.52,"i":8.23,"j":7.9},
{"t":"2009/07/06","a":10.6,"b":10.05,"c":9.78,"d":9.45,"e":9.17,"f":8.68,"g":8.46,"h":8.26,"i":8.07,"j":7.85},
{"t":"2009/07/08","a":9.8,"b":9.4,"c":9.2,"d":8.96,"e":8.76,"f":8.4,"g":8.24,"h":8.1,"i":7.96,"j":7.8},
{"t":"2009/07/10","a":9.2,"b":8.92,"c":8.78,"d":8.61,"e":8.47,"f":8.22,"g":8.11,"h":8.01,"i":7.91,"j":7.8},
{"t":"2009/07/12","a":9.6,"b":9.23,"c":9.05,"d":8.82,"e":8.64,"f":8.31,"g":8.16,"h":8.03,"i":7.9,"j":7.75},
{"t":"2009/07/14","a":10.1,"b":9.6,"c":9.35,"d":9.05,"e":8.8,"f":8.35,"g":8.15,"h":7.98,"i":7.8,"j":7.6},
{"t":"2009/07/16","a":9.5,"b":9.1,"c":8.9,"d":8.66,"e":8.46,"f":8.1,"g":7.94,"h":7.8,"i":7.66,"j":7.5},
{"t":"2009/07/18","a":9.0,"b":8.68,"c":8.52,"d":8.33,"e":8.17,"f":7.88,"g":7.75,"h":7.64,"i":7.53,"j":7.4},
{"t":"2009/07/20","a":9.3,"b":8.9,"c":8.7,"d":8.46,"e":8.26,"f":7.9,"g":7.74,"h":7.6,"i":7.46,"j":7.3},
{"t":"2009/07/22","a":9.0,"b":8.65,"c":8.48,"d":8.27,"e":8.09,"f":7.78,"g":7.64,"h":7.51,"i":7.39,"j":7.25},
{"t":"2009/07/24","a":10.5,"b":9.86,"c":9.54,"d":9.16,"e":8.84,"f":8.26,"g":8.0,"h":7.78,"i":7.56,"j":7.3},
{"t":"2009/07/26","a":11.7,"b":10.86,"c":10.44,"d":9.94,"e":9.52,"f":8.76,"g":8.42,"h":8.13,"i":7.84,"j":7.5},
{"t":"2009/07/28","a":11.2,"b":10.52,"c":10.18,"d":9.77,"e":9.43,"f":8.82,"g":8.55,"h":8.31,"i":8.07,"j":7.8},
{"t":"2009/07/30","a":10.4,"b":9.92,"c":9.68,"d":9.39,"e":9.15,"f":8.72,"g":8.53,"h":8.36,"i":8.19,"j":8.0},
{"t":"2009/08/01","a":9.6,"b":9.26,"c":9.09,"d":8.89,"e":8.72,"f":8.41,"g":8.27,"h":8.16,"i":8.04,"j":7.9},
{"t":"2009/08/03","a":9.2,"b":8.86,"c":8.69,"d":8.49,"e":8.32,"f":8.01,"g":7.87,"h":7.76,"i":7.64,"j":7.5},
{"t":"2009/08/05","a":9.5,"b":9.05,"c":8.83,"d":8.56,"e":8.33,"f":7.93,"g":7.75,"h":7.59,"i":7.43,"j":7.25},
{"t":"2009/08/07","a":9.0,"b":8.63,"c":8.45,"d":8.22,"e":8.04,"f":7.71,"g":7.56,"h":7.43,"i":7.3,"j":7.15},
{"t":"2009/08/09","a":8.7,"b":8.4,"c":8.25,"d":8.07,"e":7.92,"f":7.65,"g":7.53,"h":7.43,"i":7.32,"j":7.2},
{"t":"2009/08/11","a":9.2,"b":8.79,"c":8.59,"d":8.34,"e":8.13,"f":7.77,"g":7.6,"h":7.46,"i":7.31,"j":7.15},
{"t":"2009/08/13","a":8.8,"b":8.46,"c":8.29,"d":8.09,"e":7.92,"f":7.61,"g":7.47,"h":7.36,"i":7.24,"j":7.1},
{"t":"2009/08/15","a":7.6,"b":7.49,"c":7.44,"d":7.37,"e":7.31,"f":7.22,"g":7.17,"h":7.13,"i":7.09,"j":7.05},
{"t":"2009/08/17","a":8.5,"b":8.2,"c":8.05,"d":7.87,"e":7.72,"f":7.45,"g":7.33,"h":7.23,"i":7.12,"j":7.0},
{"t":"2009/08/19","a":5.6,"b":5.86,"c":5.99,"d":6.15,"e":6.28,"f":6.51,"g":6.61,"h":6.71,"i":6.8,"j":6.9},
{"t":"2009/08/21","a":7.6,"b":7.44,"c":7.36,"d":7.26,"e":7.18,"f":7.04,"g":6.98,"h":6.92,"i":6.86,"j":6.8},
{"t":"2009/08/23","a":7.0,"b":6.94,"c":6.91,"d":6.87,"e":6.84,"f":6.79,"g":6.77,"h":6.75,"i":6.72,"j":6.7},
{"t":"2009/08/25","a":6.5,"b":6.52,"c":6.53,"d":6.54,"e":6.55,"f":6.57,"g":6.58,"h":6.59,"i":6.59,"j":6.6},
{"t":"2009/08/27","a":6.2,"b":6.26,"c":6.29,"d":6.33,"e":6.36,"f":6.41,"g":6.43,"h":6.46,"i":6.48,"j":6.5},
{"t":"2009/08/29","a":6.8,"b":6.72,"c":6.68,"d":6.63,"e":6.59,"f":6.52,"g":6.49,"h":6.46,"i":6.43,"j":6.4},
{"t":"2009/08/31","a":6.6,"b":6.54,"c":6.51,"d":6.47,"e":6.44,"f":6.39,"g":6.37,"h":6.35,"i":6.32,"j":6.3},
{"t":"2009/09/02","a":6.6,"b":6.52,"c":6.48,"d":6.43,"e":6.39,"f":6.32,"g":6.29,"h":6.26,"i":6.23,"j":6.2},
{"t":"2009/09/04","a":4.3,"b":4.62,"c":4.78,"d":4.97,"e":5.13,"f":5.42,"g":5.55,"h":5.66,"i":5.77,"j":5.9},
{"t":"2009/09/06","a":3.2,"b":3.66,"c":3.89,"d":4.17,"e":4.4,"f":4.81,"g":4.99,"h":5.15,"i":5.32,"j":5.5},
{"t":"2009/09/08","a":4.0,"b":4.24,"c":4.36,"d":4.5,"e":4.62,"f":4.84,"g":4.94,"h":5.02,"i":5.1,"j":5.2},
{"t":"2009/09/10","a":3.5,"b":3.78,"c":3.92,"d":4.09,"e":4.23,"f":4.48,"g":4.59,"h":4.69,"i":4.79,"j":4.9},
{"t":"2009/09/12","a":3.2,"b":3.48,"c":3.62,"d":3.79,"e":3.93,"f":4.18,"g":4.29,"h":4.39,"i":4.49,"j":4.6},
{"t":"2009/09/14","a":2.2,"b":2.62,"c":2.83,"d":3.08,"e":3.29,"f":3.67,"g":3.84,"h":3.98,"i":4.13,"j":4.3},
{"t":"2009/09/16","a":1.7,"b":2.16,"c":2.39,"d":2.67,"e":2.9,"f":3.31,"g":3.49,"h":3.65,"i":3.82,"j":4.0},
{"t":"2009/09/18","a":1.5,"b":1.96,"c":2.19,"d":2.47,"e":2.7,"f":3.11,"g":3.29,"h":3.45,"i":3.62,"j":3.8},
{"t":"2009/09/20","a":1.3,"b":1.76,"c":1.99,"d":2.27,"e":2.5,"f":2.91,"g":3.09,"h":3.25,"i":3.42,"j":3.6},
{"t":"2009/09/22","a":1.0,"b":1.48,"c":1.72,"d":2.01,"e":2.25,"f":2.68,"g":2.87,"h":3.04,"i":3.21,"j":3.4},
{"t":"2009/09/24","a":0.0,"b":1.12,"c":1.38,"d":1.69,"e":1.95,"f":2.42,"g":2.63,"h":2.81,"i":2.99,"j":3.2},
{"t":"2009/09/26","a":0.3,"b":1.0,"c":1.25,"d":1.55,"e":1.8,"f":2.25,"g":2.45,"h":2.63,"i":2.8,"j":3.0},
{"t":"2009/09/28","a":0.45,"b":0.93,"c":1.17,"d":1.46,"e":1.7,"f":2.13,"g":2.32,"h":2.49,"i":2.66,"j":2.85},
{"t":"2009/09/30","a":0.4,"b":0.86,"c":1.09,"d":1.37,"e":1.6,"f":2.01,"g":2.19,"h":2.36,"i":2.52,"j":2.7},
{"t":"2009/10/02","a":0.1,"b":0.75,"c":0.98,"d":1.25,"e":1.47,"f":1.88,"g":2.06,"h":2.21,"i":2.37,"j":2.55},
{"t":"2009/10/04","a":0.0,"b":0.68,"c":0.9,"d":1.15,"e":1.37,"f":1.76,"g":1.93,"h":2.08,"i":2.23,"j":2.4},
{"t":"2009/10/06","a":0.0,"b":0.62,"c":0.83,"d":1.08,"e":1.29,"f":1.67,"g":1.84,"h":1.99,"i":2.13,"j":2.3},
{"t":"2009/10/08","a":0.1,"b":0.45,"c":0.77,"d":1.01,"e":1.22,"f":1.59,"g":1.75,"h":1.89,"i":2.04,"j":2.2},
{"t":"2009/10/10","a":0.05,"b":0.4,"c":0.71,"d":0.95,"e":1.15,"f":1.51,"g":1.66,"h":1.8,"i":1.94,"j":2.1},
{"t":"2009/10/12","a":0.1,"b":0.37,"c":0.68,"d":0.91,"e":1.1,"f":1.44,"g":1.6,"h":1.73,"i":1.87,"j":2.02},
{"t":"2009/10/14","a":0.15,"b":0.35,"c":0.69,"d":0.91,"e":1.09,"f":1.41,"g":1.55,"h":1.68,"i":1.81,"j":1.95}
]},
"layer":[
{
"transform":[{"fold":["a","b","c","d","e","f","g","h","i","j"],"as":["k","v"]},{"filter":"datum.k !== 'h'"}],
"mark":{"type":"line","strokeWidth":1,"clip":true},
"encoding":{
"x":{"field":"t","type":"temporal","scale":{"domain":[{"year":2006,"month":8,"date":1},{"year":2009,"month":10,"date":15}],"nice":false},
"axis":{"orient":"bottom","values":[{"year":2006,"month":8,"date":1},{"year":2006,"month":12,"date":1},{"year":2007,"month":4,"date":1},{"year":2007,"month":8,"date":1},{"year":2007,"month":12,"date":1},{"year":2008,"month":4,"date":1},{"year":2008,"month":8,"date":1},{"year":2008,"month":12,"date":1},{"year":2009,"month":4,"date":1},{"year":2009,"month":8,"date":1}],
"labelExpr":"(month(datum.value)==7?'aug. ':month(datum.value)==11?'des. ':'apr. ')+timeFormat(datum.value,'%y')",
"title":null,"grid":true,"gridColor":"#c8c8c8","gridWidth":1.5,"domain":false,"ticks":false,"tickSize":0,
"labelFont":"Liberation Sans","labelFontSize":21,"labelFontWeight":"bold","labelColor":"black","labelBaseline":"alphabetic","labelPadding":43,"labelFlush":false,"labelOverlap":false}},
"y":{"field":"v","type":"quantitative","scale":{"domain":[-2,14],"nice":false,"zero":false},
"axis":{"values":[-2,0,2,4,6,8,10,12,14],"title":"Jordtemperatur ¤C","grid":true,"gridColor":"#c8c8c8","gridWidth":1.5,"domain":false,"ticks":false,"tickSize":0,
"labelFont":"Liberation Sans","labelFontSize":17,"labelFontWeight":"bold","labelColor":"black","labelPadding":14,
"titleFont":"Liberation Sans","titleFontSize":21,"titleFontWeight":"bold","titleColor":"black","titleX":-69,"titleY":245,"titleAngle":-90,"titleBaseline":"middle","titleAlign":"center"}},
"color":{"field":"k","type":"nominal","scale":{"domain":["a","b","c","d","e","f","g","h","i","j"],"range":["#000000","#ff9900","#00ffff","#800080","#008080","#0000ff","#800000","#33ccff","#000080","#333333"]},
"legend":{"orient":"none","legendX":-5,"legendY":-52,"direction":"horizontal","columns":10,"title":null,
"labelExpr":"['0 cm','-10 cm','-20 cm','-30 cm','-40 cm','-50 cm','-60 cm','-70 cm','-80 cm','-90 cm'][indexof('abcdefghij', datum.value)]",
"labelFont":"Liberation Sans","labelFontSize":18,"labelFontWeight":"bold","labelColor":"black",
"labelOffset":18,"columnPadding":25,"padding":7,"strokeColor":"black","fillColor":"white","symbolStrokeWidth":1.2}},
"strokeDash":{"field":"k","type":"nominal","scale":{"domain":["a","b","c","d","e","f","g","i","j"],"range":[[1,0],[1,0],[1,0],[1,0],[1,0],[1,0],[1,0],[1,0],[2,2]]},"legend":null}
}
},
{
"transform":[{"fold":["a","b","c","d","e","f","g","h","i","j"],"as":["k2","v"]}],
"mark":{"type":"point","filled":true,"opacity":1,"strokeWidth":1,"clip":true},
"encoding":{
"x":{"field":"t","type":"temporal","axis":null},
"y":{"field":"v","type":"quantitative"},
"shape":{"field":"k2","type":"nominal","scale":{"domain":["a","b","c","d","e","f","g","h","i","j"],"range":["square","triangle-up","M-1,-1L1,1M-1,1L1,-1","M-1,-1L1,1M-1,1L1,-1M0,-1.2L0,1.2","M-1,0L1,0M0,-1L0,1","M-1,0L1,0","circle","triangle-up","diamond","diamond"]},"legend":null},
"fill":{"field":"k2","type":"nominal","scale":{"domain":["a","b","c","d","e","f","g","h","i","j"],"range":["#000000","#ff9900","transparent","transparent","transparent","transparent","#800000","transparent","#000080","#ccffff"]},"legend":null},
"stroke":{"field":"k2","type":"nominal","scale":{"domain":["a","b","c","d","e","f","g","h","i","j"],"range":["#000000","#ff9900","#00ffff","#800080","#008080","#0000ff","#800000","#33ccff","#000080","#333333"]},"legend":null},
"size":{"field":"k2","type":"ordinal","scale":{"domain":["a","b","c","d","e","f","g","h","i","j"],"range":[14,25,30,36,36,30,42,36,48,60]},"legend":null},
"order":{"field":"k2","sort":"ascending"}
}
},
{
"data":{"values":[{"t":"2006/08/01","v":14},{"t":"2006/08/01","v":-2}]},
"mark":{"type":"square","color":"black","size":25,"opacity":1,"clip":false},
"encoding":{
"x":{"field":"t","type":"temporal","axis":{"orient":"top","offset":-449,"values":[{"year":2006,"month":8,"date":1},{"year":2006,"month":12,"date":1},{"year":2007,"month":4,"date":1},{"year":2007,"month":8,"date":1},{"year":2007,"month":12,"date":1},{"year":2008,"month":4,"date":1},{"year":2008,"month":8,"date":1},{"year":2008,"month":12,"date":1},{"year":2009,"month":4,"date":1},{"year":2009,"month":8,"date":1}],"labels":false,"grid":false,"domain":true,"domainColor":"#404040","domainWidth":1.3,"ticks":true,"tickColor":"#404040","tickWidth":1.3,"tickSize":-5,"title":null}},
"y":{"field":"v","type":"quantitative"}
}
}
]
}
